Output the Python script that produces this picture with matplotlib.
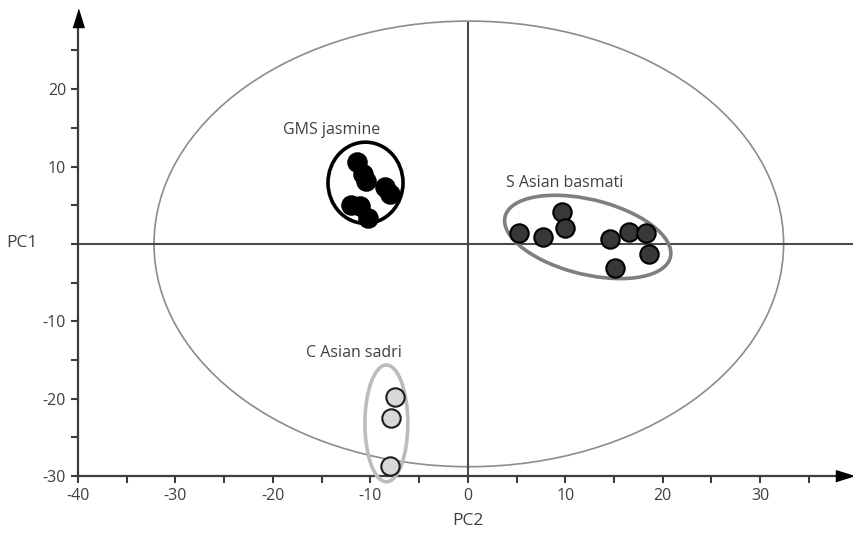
import numpy as np
import matplotlib
matplotlib.use("Agg")
import matplotlib.pyplot as plt
from matplotlib.patches import Ellipse

plt.rcParams['font.family'] = ['Open Sans', 'DejaVu Sans']
plt.rcParams['axes.unicode_minus'] = False

# PCA scores (PC2 on x, PC1 on y)
jasmine_x = [-11.35, -10.77, -10.46, -8.51, -8.0, -12.03, -11.08, -10.23]
jasmine_y = [10.6, 9.0, 8.1, 7.4, 6.5, 5.0, 4.9, 3.3]
basmati_x = [5.26, 7.72, 9.71, 9.95, 14.6, 16.5, 18.3, 18.6, 15.1]
basmati_y = [1.43, 0.92, 4.07, 2.08, 0.58, 1.49, 1.36, -1.31, -3.17]
sadri_x = [-7.49, -7.93, -8.0]
sadri_y = [-19.8, -22.5, -28.7]

groups = ["GMS jasmine", "S Asian basmati", "C Asian sadri"]
label_pos = [(-14.0, 14.7), (9.9, 7.85), (-11.7, -14.1)]
# ellipses: centre x, centre y, width, height, angle
ell_params = [(-10.5, 7.9, 7.7, 10.5, 0), (12.3, 0.9, 17.8, 9.5, -19.7), (-8.36, -23.2, 4.4, 15.1, 0)]
ell_colors = ["black", "#7f7f7f", "#bcbcbc"]
hotelling = (0.1, 0.0, 64.6, 57.6)

fig = plt.figure(figsize=(8.54, 5.34), dpi=100)
ax = fig.add_axes([78 / 854, 58 / 534, 767 / 854, 458 / 534])

axcol = "#3c3c3c"
ax.set_xlim(-40, 38.7)
ax.set_ylim(-30, 29.2)

# big confidence ellipse
ax.add_patch(Ellipse(hotelling[:2], hotelling[2], hotelling[3], fill=False,
                     ec="#8c8c8c", lw=1.2, zorder=1))

# crosshair
ax.axvline(0, ymax=0.99, color="#4a4a4a", lw=1.5, zorder=2)
ax.plot([-40, 39.6], [0, 0], color="#4a4a4a", lw=1.5, zorder=2, clip_on=False)

ax.scatter(jasmine_x, jasmine_y, s=185, c="black", edgecolors="black", lw=1.2, zorder=4)
ax.scatter(basmati_x, basmati_y, s=175, c="#383838", edgecolors="black", lw=1.5, zorder=4)
ax.scatter(sadri_x, sadri_y, s=175, c="#d8d8d8", edgecolors="#1e1e1e", lw=1.5, zorder=4,
           clip_on=False)

for (cx, cy, w, h, a), col in zip(ell_params, ell_colors):
    ax.add_patch(Ellipse((cx, cy), w, h, angle=a, fill=False, ec=col, lw=2.6, zorder=3,
                         clip_on=False))

for name, (tx, ty) in zip(groups, label_pos):
    ax.text(tx, ty, name, ha="center", va="center", fontsize=11.5, color="#404040")

for s in ["top", "right"]:
    ax.spines[s].set_visible(False)
for s in ["left", "bottom"]:
    ax.spines[s].set_color(axcol)
    ax.spines[s].set_linewidth(1.6)

ax.set_xticks(np.arange(-40, 31, 10))
ax.set_xticks(np.arange(-35, 36, 10), minor=True)
ax.set_yticks([-30, -20, -10, 0, 10, 20])
ax.set_yticklabels(["-30", "-20", "-10", "", "10", "20"])
ax.set_yticks(np.arange(-25, 26, 10), minor=True)
ax.tick_params(which="both", direction="out", length=5, width=1.5, color=axcol,
               labelsize=11.5, labelcolor="#404040")

# arrow heads
head = [(-1, -1.6), (1, -1.6), (0, 1.6)]
ax.plot(0, 1, marker=head, ms=13, color="black", transform=ax.transAxes, clip_on=False, zorder=5)
head_r = [(-1.6, -1), (-1.6, 1), (1.6, 0)]
ax.plot(1, 0, marker=head_r, ms=13, color="black", transform=ax.transAxes, clip_on=False, zorder=5)

fig.text(22 / 854, 1 - 243 / 534, "PC1", ha="center", va="center", fontsize=12.5, color="#404040")
fig.text(468 / 854, 1 - 521 / 534, "PC2", ha="center", va="center", fontsize=12.5, color="#404040")

fig.savefig("out.png", dpi=100)
